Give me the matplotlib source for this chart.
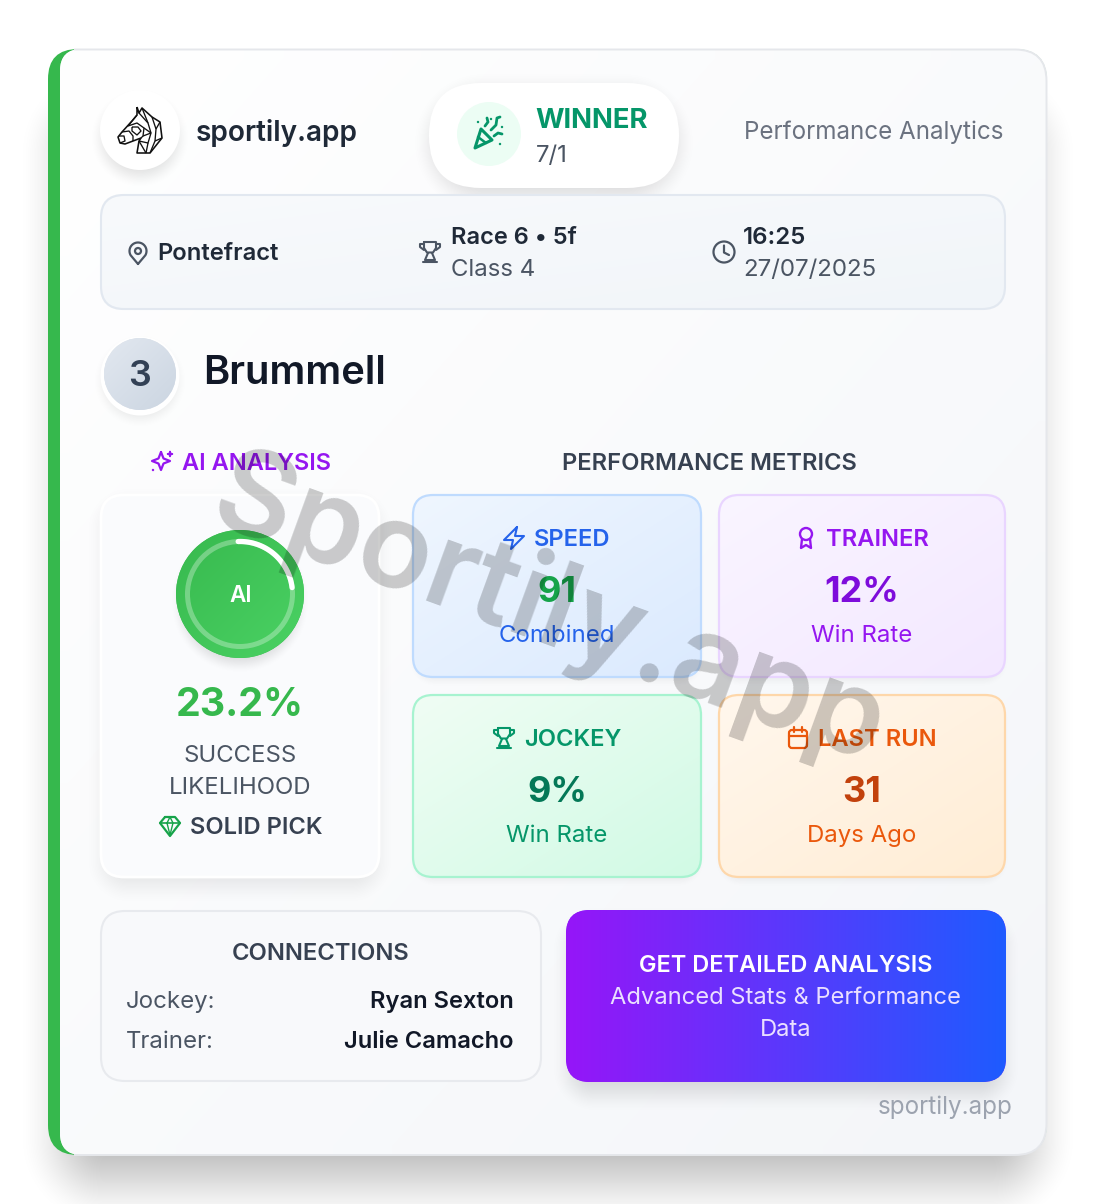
import numpy as np
import matplotlib
matplotlib.use('Agg')
from matplotlib import pyplot as plt
from matplotlib.patches import FancyBboxPatch, Circle, PathPatch, Polygon
from matplotlib.path import Path
from matplotlib.colors import to_rgb

W, H = 1096, 1204
plt.rcParams['font.family'] = ['Inter', 'DejaVu Sans']

site_name = 'sportily.app'
tagline = 'Performance Analytics'
result_label = 'WINNER'
odds = '7/1'
course = 'Pontefract'
race_line = 'Race 6 • 5f'
class_line = 'Class 4'
time_line = '16:25'
date_line = '27/07/2025'
horse_no = '3'
horse_name = 'Brummell'
probability = '23.2%'
likelihood_lines = ['SUCCESS', 'LIKELIHOOD']
pick_label = 'SOLID PICK'
metric_titles = ['SPEED', 'TRAINER', 'JOCKEY', 'LAST RUN']
metric_values = ['91', '12%', '9%', '31']
metric_subs = ['Combined', 'Win Rate', 'Win Rate', 'Days Ago']
connection_roles = ['Jockey:', 'Trainer:']
connection_names = ['Ryan Sexton', 'Julie Camacho']
cta_title = 'GET DETAILED ANALYSIS'
cta_lines = ['Advanced Stats & Performance', 'Data']
watermark = 'Sportily.app'

fig = plt.figure(figsize=(W / 100, H / 100), dpi=100)
ax = fig.add_axes([0, 0, 1, 1])
ax.set_xlim(0, W)
ax.set_ylim(H, 0)
ax.axis('off')

GREEN = '#36b84d'
DARK = '#1f2937'
SLATE = '#374151'
GREY = '#4b5563'


def px(size):
    return size * 0.72


def rbox(x, y, w, h, r, fc='none', ec='none', lw=0, z=2):
    p = FancyBboxPatch((x + r, y + r), w - 2 * r, h - 2 * r, boxstyle='round,pad=%f,rounding_size=%f' % (r, r),
                       fc=fc, ec=ec, lw=lw, zorder=z, mutation_aspect=1)
    ax.add_patch(p)
    return p


def shadow(x, y, w, h, r, blur, alpha, color='black', z=1):
    # soft shadow from the signed distance of a rounded box
    m = int(blur * 2 + 4)
    x0, x1 = int(x - m), int(x + w + m)
    y0, y1 = int(y - m), int(y + h + m)
    xx, yy = np.meshgrid(np.arange(x0, x1) + 0.5, np.arange(y0, y1) + 0.5)
    qx = np.abs(xx - (x + w / 2)) - (w / 2 - r)
    qy = np.abs(yy - (y + h / 2)) - (h / 2 - r)
    d = np.hypot(np.maximum(qx, 0), np.maximum(qy, 0)) + np.minimum(np.maximum(qx, qy), 0) - r
    t = np.clip(0.5 - d / (2 * blur), 0, 1)
    img = np.zeros(d.shape + (4,))
    img[..., :3] = to_rgb(color)
    img[..., 3] = t * t * (3 - 2 * t) * alpha
    ax.imshow(img, extent=(x0, x1, y1, y0), zorder=z, interpolation='bilinear', aspect='auto')


def gradient(x, y, w, h, clip, c0, c1, angle='diag', z=2.1):
    u, v = np.meshgrid(np.linspace(0, 1, 64), np.linspace(0, 1, 64))
    t = {'diag': (u + v) / 2, 'h': u, 'v': v}[angle]
    c0, c1 = np.array(to_rgb(c0)), np.array(to_rgb(c1))
    im = ax.imshow(c0 + (c1 - c0) * t[..., None], extent=(x, x + w, y + h, y), zorder=z,
                   interpolation='bilinear', aspect='auto')
    im.set_clip_path(clip)


def label(x, y, s, size, color, weight='normal', ha='center', z=5):
    # y is the middle of the capitals
    return ax.text(x, y + 0.364 * size, s, fontsize=px(size), color=color, fontweight=weight, ha=ha,
                   va='baseline', zorder=z)


def stroke(pts, color, lw=1.5, z=6, cap='round'):
    pts = np.asarray(pts, float)
    ax.plot(pts[:, 0], pts[:, 1], color=color, lw=lw, zorder=z, solid_capstyle=cap, solid_joinstyle='round')


def card_path(x0, y0, x1, y1, rl, rr):
    verts = [(x0 + rl, y0), (x1 - rr, y0), (x1, y0), (x1, y0 + rr), (x1, y1 - rr), (x1, y1), (x1 - rr, y1),
             (x0 + rl, y1), (x0, y1), (x0, y1 - rl), (x0, y0 + rl), (x0, y0), (x0 + rl, y0), (x0 + rl, y0)]
    codes = [Path.MOVETO, Path.LINETO, Path.CURVE3, Path.CURVE3, Path.LINETO, Path.CURVE3, Path.CURVE3,
             Path.LINETO, Path.CURVE3, Path.CURVE3, Path.LINETO, Path.CURVE3, Path.CURVE3, Path.CLOSEPOLY]
    return Path(verts, codes)


# icons, drawn about a centre point
def trophy(cx, cy, color, s=1.0):
    stroke([(cx - 6 * s, cy - 10 * s), (cx + 6 * s, cy - 10 * s), (cx + 6 * s, cy - 4 * s), (cx + 3 * s, cy + 0.5 * s),
            (cx - 3 * s, cy + 0.5 * s), (cx - 6 * s, cy - 4 * s), (cx - 6 * s, cy - 10 * s)], color, 1.5)
    stroke([(cx - 6 * s, cy - 8 * s), (cx - 10 * s, cy - 8 * s), (cx - 10 * s, cy - 5 * s), (cx - 6 * s, cy - 2 * s)], color, 1.5)
    stroke([(cx + 6 * s, cy - 8 * s), (cx + 10 * s, cy - 8 * s), (cx + 10 * s, cy - 5 * s), (cx + 6 * s, cy - 2 * s)], color, 1.5)
    stroke([(cx - 2 * s, cy + 1 * s), (cx - 5 * s, cy + 8 * s), (cx + 5 * s, cy + 8 * s), (cx + 2 * s, cy + 1 * s)], color, 1.5)
    stroke([(cx - 7 * s, cy + 10 * s), (cx + 7 * s, cy + 10 * s)], color, 1.5)


def pin(cx, cy, color):
    pts = [(cx, cy + 11)] + [(cx + 8.5 * np.cos(a), cy - 2 - 8.5 * np.sin(a)) for a in np.linspace(np.radians(-30), np.radians(210), 40)] + [(cx, cy + 11)]
    stroke(pts, color, 1.6)
    ax.add_patch(Circle((cx, cy - 2), 3, fc='none', ec=color, lw=1.6, zorder=6))


def star4(cx, cy, r, color, lw=1.6):
    a = r * 0.28
    stroke([(cx, cy - r), (cx + a, cy - a), (cx + r, cy), (cx + a, cy + a), (cx, cy + r), (cx - a, cy + a), (cx - r, cy), (cx - a, cy - a), (cx, cy - r)], color, lw)


def bolt(cx, cy, color):
    stroke([(cx + 3, cy - 11), (cx - 10, cy + 2), (cx - 1, cy + 2), (cx - 3, cy + 11), (cx + 10, cy - 2), (cx + 1, cy - 2), (cx + 3, cy - 11)], color, 1.5)


def medal(cx, cy, color):
    ax.add_patch(Circle((cx, cy - 4), 6, fc='none', ec=color, lw=1.7, zorder=6))
    stroke([(cx - 4, cy + 1), (cx - 5, cy + 10), (cx, cy + 7), (cx + 5, cy + 10), (cx + 4, cy + 1)], color, 1.7)


def calendar(cx, cy, color):
    rbox(cx - 9, cy - 8, 18, 18, 3, ec=color, lw=1.6, z=6)
    stroke([(cx - 9, cy - 2), (cx + 9, cy - 2)], color, 1.6)
    stroke([(cx - 4, cy - 11), (cx - 4, cy - 6)], color, 1.6)
    stroke([(cx + 4, cy - 11), (cx + 4, cy - 6)], color, 1.6)


def gem(cx, cy, color):
    stroke([(cx - 5, cy - 9), (cx + 5, cy - 9), (cx + 10, cy - 3), (cx, cy + 10), (cx - 10, cy - 3), (cx - 5, cy - 9)], color, 1.6)
    stroke([(cx - 10, cy - 3), (cx + 10, cy - 3)], color, 1.2)
    stroke([(cx - 3, cy - 3), (cx, cy + 9), (cx + 3, cy - 3), (cx, cy - 9), (cx - 3, cy - 3)], color, 1.0)


def popper(cx, cy, color):
    ax.add_patch(Polygon([(cx - 14, cy + 14), (cx - 8, cy - 5), (cx + 3, cy + 6)], closed=True, fc='none', ec=color, lw=2.2, zorder=6, joinstyle='round'))
    stroke([(cx - 11, cy + 3), (cx - 3, cy + 9)], color, 1.8)
    stroke([(cx - 4, cy - 8), (cx - 1, cy - 12), (cx - 2, cy - 16)], color, 2)
    stroke([(cx + 2, cy - 4), (cx + 7, cy - 9), (cx + 8, cy - 16), (cx + 11, cy - 17)], color, 2)
    stroke([(cx + 5, cy + 2), (cx + 9, cy - 1), (cx + 13, cy)], color, 2)
    for dx, dy in [(-11, -12), (2, -15), (13, -7), (11, 10)]:
        ax.add_patch(Circle((cx + dx, cy + dy), 1.2, fc=color, ec='none', zorder=6))


def horse(cx, cy):
    k = '#111111'
    outline = [(-3, -24), (-1, -18), (2, -23), (12, -14), (20, -9), (22, 7), (10, 22), (-3, 22), (-1, 10), (1, 7),
               (-7, 10), (-15, 13), (-20, 12), (-22, 6), (-18, 1), (-8, -10), (-3, -16), (-3, -24)]
    stroke([(cx + a, cy + b) for a, b in outline], k, 1.15, cap='butt')
    inner = [[(-1, -18), (8, -8), (11, 2), (8, 12), (-1, 10)], [(2, -23), (8, -8)], [(12, -14), (16, -2), (15, 10), (10, 22)],
             [(20, -9), (16, -2)], [(22, 7), (15, 10)], [(-3, -16), (-12, -5), (-3, -8), (4, -3), (3, 5), (1, 7)],
             [(-8, -4), (-2, -4), (1, 0), (-3, 4), (-8, 0), (-8, -4)], [(-18, 1), (-11, 0), (-7, 5), (-7, 10)],
             [(-21, 5), (-16, 5), (-15, 10), (-20, 12)], [(3, 5), (11, 2)], [(-1, 10), (6, 22)], [(8, 12), (6, 22)],
             [(4, -3), (11, 2)]]
    for seg in inner:
        stroke([(cx + a, cy + b) for a, b in seg], k, 0.95, cap='butt')


# outer card
shadow(66, 112, 964, 1068, 40, 50, 0.28, z=0.5)
outer = PathPatch(card_path(48, 49, 1047, 1155, 30, 32), fc=GREEN, ec='none', zorder=1)
ax.add_patch(outer)
inner_card = PathPatch(card_path(60, 49, 1047, 1155, 22, 32), fc='#f7f8fa', ec='none', zorder=1.1)
ax.add_patch(inner_card)
gradient(60, 49, 987, 1106, inner_card, '#ffffff', '#f4f6f9', 'diag', z=1.2)
border = PathPatch(Path([(74, 49.5), (1015, 49.5), (1046.5, 49.5), (1046.5, 81), (1046.5, 1123), (1046.5, 1155), (1015, 1155), (74, 1155)],
                        [Path.MOVETO, Path.LINETO, Path.CURVE3, Path.CURVE3, Path.LINETO, Path.CURVE3, Path.CURVE3, Path.LINETO]),
                   fc='none', ec='#e5e7eb', lw=1.4, zorder=1.3)
ax.add_patch(border)

# header
shadow(102, 100, 76, 76, 38, 13, 0.12, z=1.4)
ax.add_patch(Circle((140, 130), 40, fc='white', zorder=2))
horse(140, 131)
label(196, 130.6, site_name, 28, DARK, 600, 'left')

shadow(433, 92, 242, 102, 50, 22, 0.15, z=1.4)
rbox(429, 83, 250, 105, 52, fc='white', z=3)
ax.add_patch(Circle((489, 134), 32, fc='#ecfdf4', zorder=3.1))
popper(489, 134, '#059669')
label(535.5, 118, result_label, 27.5, '#059669', 700, 'left')
label(536, 153.6, odds, 24, GREY, 'normal', 'left')
label(1003, 130, tagline, 24.2, '#6b7280', 'normal', 'right')

# race info strip
strip = rbox(100, 194, 906, 116, 24, fc='#f5f7fa', z=1.5)
gradient(100, 194, 906, 116, strip, '#f8fafc', '#f1f5f9', 'diag', z=1.6)
rbox(101, 195, 904, 114, 23, ec='#e2e8f0', lw=1.5, z=1.7)
pin(138, 253, '#4b5563')
label(157.3, 251.3, course, 23.8, DARK, 600, 'left')
trophy(430, 252, '#4b5563')
label(450.7, 235, race_line, 23.6, DARK, 600, 'left')
label(451, 267, class_line, 24, GREY, 'normal', 'left')
ax.add_patch(Circle((724, 252), 10.5, fc='none', ec='#4b5563', lw=1.6, zorder=6))
stroke([(724, 245.5), (724, 252.5), (729, 255)], '#4b5563', 1.6)
label(743, 235, time_line, 24, DARK, 600, 'left')
label(743, 267, date_line, 24.1, GREY, 'normal', 'left')

# horse number and name
shadow(104, 345, 72, 72, 36, 12, 0.10, z=1.4)
ax.add_patch(Circle((140, 376), 39.5, fc='white', zorder=2))
num = Circle((140, 374), 36, fc='#dde3ec', zorder=2.1)
ax.add_patch(num)
gradient(104, 338, 72, 72, num, '#e2e8f0', '#cbd5e1', 'diag', z=2.2)
label(139.5, 373, horse_no, 36, '#334155', 600)
label(203.2, 369.8, horse_name, 39.9, '#111827', 600, 'left')

# section headings
star4(161, 461, 9, '#9516f0', 1.6)
star4(170, 454, 2.5, '#9516f0', 1.1)
ax.add_patch(Circle((153, 470), 1.2, fc='#9516f0', zorder=6))
label(182.5, 461.3, 'AI ANALYSIS', 23.6, '#9516f0', 600, 'left')
label(709, 461.3, 'PERFORMANCE METRICS', 23.8, SLATE, 600)

# AI panel
shadow(104, 504, 272, 382, 24, 20, 0.09, z=1.4)
rbox(101, 495, 278, 382, 23, fc='#fafbfd', ec='white', lw=2, z=2)
shadow(180, 538, 120, 126, 60, 10, 0.12, z=2.2)
ball = Circle((240, 594), 64, fc=GREEN, zorder=2.5)
ax.add_patch(ball)
gradient(176, 530, 128, 128, ball, '#37b94e', '#4bd264', 'diag', z=2.6)
ax.add_patch(Circle((240, 594), 52.5, fc='none', ec='#ffffff', alpha=0.3, lw=3.6, zorder=2.7))
sweep = np.radians(np.linspace(-92, -7, 60))
stroke(np.column_stack([240 + 52.5 * np.cos(sweep), 594 + 52.5 * np.sin(sweep)]), 'white', 3.8, z=2.8)
label(240.5, 593.8, 'AI', 22.5, 'white', 600)
label(240, 702, probability, 39.4, GREEN, 700)
label(240, 753.3, likelihood_lines[0], 24, GREY)
label(240, 785.3, likelihood_lines[1], 24, GREY)
gem(170, 826, '#16a34a')
label(190, 825.3, pick_label, 23.7, SLATE, 600, 'left')

# metric tiles
tile_x = [413, 719, 413, 719]
tile_y = [495, 495, 695, 695]
tile_w = [288, 286, 288, 286]
tile_c0 = ['#eff6ff', '#faf5ff', '#f0fdf4', '#fff7ed']
tile_c1 = ['#dbeafe', '#f3e8ff', '#d1fae5', '#ffedd5']
tile_border = ['#bfdbfe', '#e9d5ff', '#a7f3d0', '#fed7aa']
tile_head = ['#2563eb', '#9516f0', '#059669', '#ea580c']
tile_value = ['#16a34a', '#7e0cdb', '#047857', '#c2410c']
tile_sub = ['#2563eb', '#9516f0', '#059669', '#ea580c']
head_text_x = [572.5, 877.5, 572.5, 877.5]
icon_x = [514, 806, 504, 798]
icons = [bolt, medal, trophy, calendar]
tile_h = 182
for i in range(4):
    x, y, w = tile_x[i], tile_y[i], tile_w[i]
    shadow(x + 2, y + 4, w - 4, tile_h, 20, 7, 0.05, z=1.4)
    tile = rbox(x, y, w, tile_h, 20, fc=tile_c0[i], z=2)
    gradient(x, y, w, tile_h, tile, tile_c0[i], tile_c1[i], 'diag', z=2.1)
    rbox(x, y, w, tile_h, 20, ec=tile_border[i], lw=1.6, z=2.2)
    cx = x + w / 2
    label(head_text_x[i], y + 42.5, metric_titles[i], 23.7, tile_head[i], 600)
    icons[i](icon_x[i], y + 43, tile_head[i])
    label(cx, y + 94, metric_values[i], 36, tile_value[i], 700)
    label(cx, y + 138, metric_subs[i], 24, tile_sub[i])

# connections
rbox(101, 911, 440, 170, 24, fc='#f8f9fb', ec='#e8eaee', lw=1.5, z=2)
label(321, 951.3, 'CONNECTIONS', 23.8, SLATE, 600)
for i in range(2):
    row_y = 999.5 + i * 40
    label(126, row_y, connection_roles[i], 24, GREY, 'normal', 'left')
    label(513.5, row_y, connection_names[i], 23.7, '#111827', 600, 'right')

# call to action
shadow(570, 924, 432, 170, 24, 20, 0.13, z=1.4)
cta = rbox(566, 910, 440, 172, 24, fc='#8b20ff', z=2)
gradient(566, 910, 440, 172, cta, '#9516f8', '#1f5bff', 'h', z=2.1)
label(786, 963, cta_title, 23.5, 'white', 600)
label(785.5, 995, cta_lines[0], 23.7, '#eadfff')
label(786, 1027, cta_lines[1], 23.7, '#eadfff')
label(1012.5, 1105.5, site_name, 24.2, '#9ca3af', 'normal', 'right')

# watermark on top of everything
ax.text(549, 612, watermark, fontsize=px(120), color='#000000', alpha=0.2, fontweight=600, rotation=-20,
        rotation_mode='anchor', ha='center', va='center', zorder=20)

ax.set_xlim(0, W)
ax.set_ylim(H, 0)
fig.savefig('out.png', dpi=100, facecolor='white')
